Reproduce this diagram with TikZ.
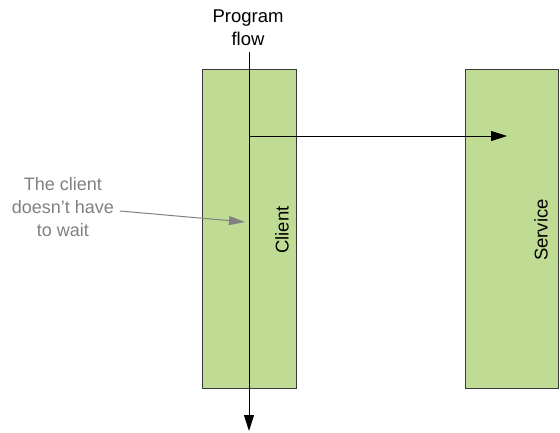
\documentclass[tikz,border=0pt]{standalone}
\usepackage{fontspec}
\setmainfont{Liberation Sans}
\usetikzlibrary{arrows.meta}
\definecolor{boxgreen}{HTML}{C0DC94}
\definecolor{boxedge}{HTML}{3A3A3A}
\definecolor{notegray}{HTML}{808080}
\begin{document}
\begin{tikzpicture}[x=1pt,y=-1pt,
  lane/.style={draw=boxedge, fill=boxgreen, line width=1pt},
  flow/.style={line width=1pt, -{Triangle[length=16pt,width=10pt]}},
  lbl/.style={font=\fontsize{18.5}{23}\selectfont, align=center, inner sep=0pt},
  note/.style={font=\fontsize{18}{23}\selectfont, align=center, inner sep=0pt, text=notegray},
  notearrow/.style={draw=notegray, line width=1pt, -{Triangle[length=16pt,width=9pt]}}]
\useasboundingbox (0,0) rectangle (560,432);
\draw[lane] (202,69) rectangle (296,388);
\draw[lane] (465,69) rectangle (558,388);
\node[lbl, rotate=90] (client) at (282,230) {Client};
\node[lbl, rotate=90] (service) at (541,230) {Service};
\node[lbl] (prog) at (248,28) {Program\\flow};
\coordinate (top) at (249,52);
\coordinate (bottom) at (249,431);
\coordinate (branch) at (249,136);
\coordinate (call) at (507,136);
\draw[flow] (top) -- (bottom);
\draw[flow] (branch) -- (call);
\node[note] (wait) at (63,207) {The client\\doesn’t have\\to wait};
\coordinate (waitstart) at (120,211);
\coordinate (waitend) at (245,222);
\draw[notearrow] (waitstart) -- (waitend);
\end{tikzpicture}
\end{document}
